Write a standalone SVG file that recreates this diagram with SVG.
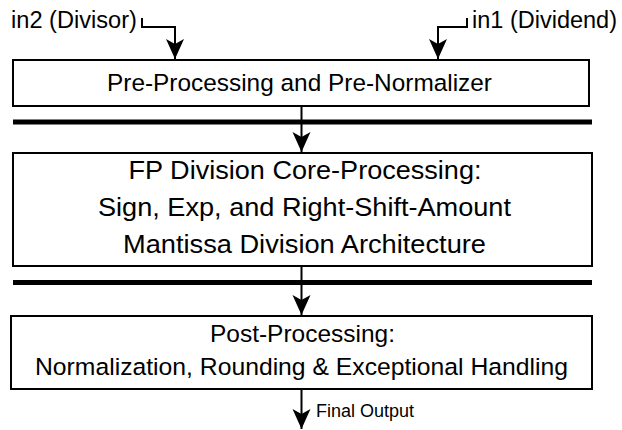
<svg xmlns="http://www.w3.org/2000/svg" width="622" height="430" viewBox="0 0 622 430">
  <style>
    .box { fill: #fff; stroke: #000; stroke-width: 2; }
    .bar { stroke: #000; stroke-width: 5; }
    .wire { fill: none; stroke: #000; stroke-width: 2; }
    .lbl { font-family: "Liberation Sans", Arial, sans-serif; font-size: 24.5px; fill: #000; text-anchor: middle; }
    .core { font-size: 26.5px; }
    .io { font-family: "Liberation Sans", Arial, sans-serif; font-size: 23.5px; fill: #000; }
    .small { font-family: "Liberation Sans", Arial, sans-serif; font-size: 17.5px; fill: #000; }
  </style>
  <defs>
    <!-- filled arrowhead with a shallow notch at the back -->
    <marker id="arrow" markerUnits="userSpaceOnUse" markerWidth="22" markerHeight="20" viewBox="-21 -10 22 20" refX="0" refY="0" orient="auto">
      <path d="M0,0 L-20,-9 L-15,0 L-20,9 Z" fill="#000"/>
    </marker>
  </defs>

  <g id="connectors">
    <path class="wire" d="M142,18 V27 H175 V59" marker-end="url(#arrow)"/>
    <path class="wire" d="M467,18 V27 H438 V59" marker-end="url(#arrow)"/>
    <path class="wire" d="M301.5,106 V152" marker-end="url(#arrow)"/>
    <path class="wire" d="M301.5,266 V315" marker-end="url(#arrow)"/>
    <path class="wire" d="M301.5,389 V429" marker-end="url(#arrow)"/>
  </g>

  <g id="in2">
    <text class="io" x="11" y="28" textLength="126" lengthAdjust="spacingAndGlyphs">in2 (Divisor)</text>
  </g>
  <g id="in1">
    <text class="io" x="472" y="28" textLength="145" lengthAdjust="spacingAndGlyphs">in1 (Dividend)</text>
  </g>

  <g id="preprocess">
    <rect class="box" x="13" y="60" width="576" height="46"/>
    <text class="lbl" x="299.5" y="91" textLength="385" lengthAdjust="spacingAndGlyphs">Pre-Processing and Pre-Normalizer</text>
  </g>

  <g id="stage-bar-1">
    <line class="bar" x1="13" y1="122" x2="592" y2="122"/>
  </g>

  <g id="core">
    <rect class="box" x="13" y="153" width="579" height="113"/>
    <text class="lbl core" x="305" y="178.5" textLength="353" lengthAdjust="spacingAndGlyphs">FP Division Core-Processing:</text>
    <text class="lbl core" x="304.5" y="215.5" textLength="413" lengthAdjust="spacingAndGlyphs">Sign, Exp, and Right-Shift-Amount</text>
    <text class="lbl core" x="304.5" y="252.5" textLength="363" lengthAdjust="spacingAndGlyphs">Mantissa Division Architecture</text>
  </g>

  <g id="stage-bar-2">
    <line class="bar" x1="13" y1="282.5" x2="592" y2="282.5"/>
  </g>

  <g id="postprocess">
    <rect class="box" x="11" y="316" width="581" height="73"/>
    <text class="lbl" x="302.5" y="342" textLength="185" lengthAdjust="spacingAndGlyphs">Post-Processing:</text>
    <text class="lbl" x="301.5" y="375" textLength="533" lengthAdjust="spacingAndGlyphs">Normalization, Rounding &amp; Exceptional Handling</text>
  </g>

  <g id="output">
    <text class="small" x="316" y="417" textLength="98" lengthAdjust="spacingAndGlyphs">Final Output</text>
  </g>
</svg>
